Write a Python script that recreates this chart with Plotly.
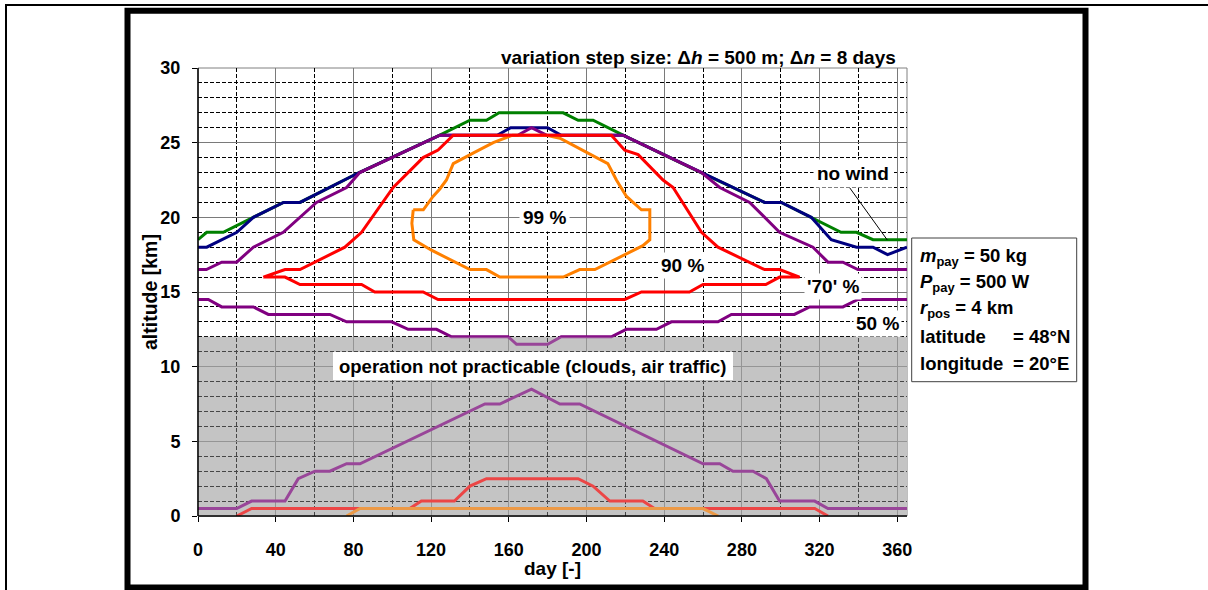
import plotly.graph_objects as go

# ---------------- data: altitude envelopes [km] versus day of year ----------------
# no wind (upper limit)
nowind_day = [0, 4.5, 13, 28.5, 44, 52.5, 83, 124.5, 140, 148.5, 155, 188, 195.7, 203.4,
              218.8, 259, 291.7, 300.3, 315.7, 331, 339, 347.5, 365]
nowind_alt = [18.5, 19, 19, 20, 21, 21, 23, 25.5, 26.5, 26.5, 27, 27, 26.5, 26.5,
              25.5, 23, 21, 21, 20, 19, 19, 18.5, 18.5]

# blue upper limit
blue_day = [0, 4.5, 20, 28.5, 44, 52.5, 83, 124.5, 154, 161, 180, 187, 218.8, 259,
            291.7, 300.3, 315.7, 326, 339, 347.5, 355, 365]
blue_alt = [18, 18, 19, 20, 21, 21, 23, 25.5, 25.5, 26, 26, 25.5, 25.5, 23,
            21, 21, 20, 18.5, 18, 18, 17.5, 18]

# 50 % band: upper and lower limit
p50_hi_day = [0, 4.3, 12.2, 19.9, 28.5, 43.9, 61, 76.5, 83.3, 124.5, 164.6, 171.7, 179.4,
              218.8, 259.2, 268.6, 284, 299.4, 316.6, 324.3, 332, 339.7, 365]
p50_hi_alt = [16.5, 16.5, 17, 17, 18, 19, 21, 22, 23, 25.5, 25.5, 26, 25.5,
              25.5, 23, 22, 21, 19, 18, 17, 17, 16.5, 16.5]
p50_lo_day = [0, 5.3, 12.2, 28.5, 36.2, 67.9, 76.5, 99.7, 108.2, 122.8, 130.5, 159.7, 164,
              180, 187, 212.8, 220.5, 236, 243.7, 267.7, 274.6, 307, 314.9, 332, 339.7, 365]
p50_lo_alt = [14.5, 14.5, 14, 14, 13.5, 13.5, 13, 13, 12.5, 12.5, 12, 12, 11.5,
              11.5, 12, 12, 12.5, 12.5, 13, 13, 13.5, 13.5, 14, 14, 14.5, 14.5]

# '70' % / 90 % closed envelope (red)
red_day = [33.6, 44.8, 52.5, 75.6, 84.2, 100.5, 115.9, 123.6, 131.4, 212.8, 219.7, 226.6,
           239.4, 244.6, 259.2, 267.7, 291.7, 299.4, 309.7, 299.4, 292.3, 260, 253, 228.3,
           219.7, 123.6, 115.9, 91, 84.2, 52.5, 44.8, 33.6]
red_alt = [16, 16.5, 16.5, 18, 19, 22, 24, 24.5, 25.5, 25.5, 24.5, 24.2,
           22.5, 22, 19, 18, 16.5, 16.5, 16, 16, 15.5, 15.5, 15, 15,
           14.5, 14.5, 15, 15, 15.5, 15.5, 16, 16]

# 99 % closed envelope (orange)
p99_day = [110.8, 116, 121, 124.5, 127.9, 131.4, 141.6, 152, 162, 179.4, 186.3, 206.8, 211,
           215.4, 220.6, 228.3, 232.6, 232.6, 229, 204.3, 196.5, 188, 155.4, 148.5, 140,
           120.2, 111.1, 110.1, 110.8]
p99_alt = [20.5, 20.5, 21.4, 21.9, 22.5, 23.6, 24.3, 25, 25.5, 25.5, 25.3, 23.9, 23.6,
           22.5, 21.4, 20.5, 20.5, 18.5, 18.1, 16.5, 16.5, 16, 16, 16.5, 16.5,
           17.8, 18.5, 19.6, 20.5]

# low-altitude limits (inside the excluded layer)
purple_gnd_day = [0, 19.9, 27.6, 44.8, 51.6, 60.2, 67.9, 76.5, 83.4, 147.7, 155.4, 171.7,
                  186.3, 196.5, 260, 268.6, 275.4, 285.7, 292.6, 299.4, 317.5, 324.3, 365]
purple_gnd_alt = [0.5, 0.5, 1, 1, 2.5, 3, 3, 3.5, 3.5, 7.5, 7.5, 8.5,
                  7.5, 7.5, 3.5, 3.5, 3, 3, 2.5, 1, 1, 0.5, 0.5]
red_gnd_day = [20, 27.6, 109, 115, 132, 140, 148.5, 195.7, 203.4, 212, 229, 235, 317.5, 324.3]
red_gnd_alt = [0, 0.5, 0.5, 1, 1, 2, 2.5, 2.5, 2, 1, 1, 0.5, 0.5, 0]
orange_gnd_day = [76.5, 83.4, 260, 267.8]
orange_gnd_alt = [0, 0.5, 0.5, 0]

# excluded layer (clouds, air traffic)
excluded_top = 12

x_ticks = [0, 40, 80, 120, 160, 200, 240, 280, 320, 360]
y_ticks = [0, 5, 10, 15, 20, 25, 30]

# ---------------- styling ----------------
GREEN, BLUE, PURPLE = "#008000", "#000080", "#800080"
RED, ORANGE = "#FF0000", "#FF8000"
FONT = "Liberation Sans, Arial, sans-serif"

W, H = 1208, 590
L, R, T, B = 198, 907, 68, 516   # plot area in pixels


def px_x(px):
    return (px - L) / (R - L)


def px_y(py):
    return (B - py) / (B - T)


def bold(size):
    return dict(family=FONT, size=size, color="black", weight="bold")


fig = go.Figure()

curves = [
    (nowind_day, nowind_alt, GREEN),
    (blue_day, blue_alt, BLUE),
    (p50_hi_day, p50_hi_alt, PURPLE),
    (p50_lo_day, p50_lo_alt, PURPLE),
    (p99_day, p99_alt, ORANGE),
    (red_day, red_alt, RED),
    (red_gnd_day, red_gnd_alt, RED),
    (orange_gnd_day, orange_gnd_alt, ORANGE),
    (purple_gnd_day, purple_gnd_alt, PURPLE),
]
for xs, ys, col in curves:
    fig.add_trace(go.Scatter(x=xs, y=ys, mode="lines", line=dict(color=col, width=3),
                             hoverinfo="skip", showlegend=False))

shapes = [
    # grey excluded layer under the grid
    dict(type="rect", layer="below", xref="x", yref="y", x0=0, x1=365, y0=0, y1=excluded_top,
         fillcolor="rgb(194,194,194)", line=dict(width=0)),
    # plot-area border
    dict(type="rect", layer="below", xref="paper", yref="paper", x0=0, x1=1, y0=0, y1=1,
         line=dict(color="#808080", width=1)),
    # haze over the curves inside the excluded layer
    dict(type="rect", layer="above", xref="x", yref="y", x0=0, x1=365, y0=0, y1=excluded_top,
         fillcolor="rgba(200,200,200,0.35)", line=dict(width=0)),
    # white label box for the excluded layer
    dict(type="rect", layer="above", xref="paper", yref="paper",
         x0=px_x(333), x1=px_x(733), y0=px_y(380), y1=px_y(352),
         fillcolor="white", line=dict(width=0)),
    # axis lines
    dict(type="line", layer="above", xref="paper", yref="paper", x0=0, x1=0, y0=0, y1=1,
         line=dict(color="black", width=1.5)),
    dict(type="line", layer="above", xref="paper", yref="paper", x0=0, x1=1, y0=0, y1=0,
         line=dict(color="black", width=1.5)),
    # leader line of the "no wind" label
    dict(type="line", xref="paper", yref="paper", x0=px_x(847.7), y0=px_y(185),
         x1=px_x(887.3), y1=px_y(240), line=dict(color="black", width=1)),
    # parameter box
    dict(type="rect", xref="paper", yref="paper", x0=px_x(911.7), x1=px_x(1076.7),
         y0=px_y(381.7), y1=px_y(238), fillcolor="white", line=dict(color="#404040", width=1)),
    # frames
    dict(type="rect", xref="paper", yref="paper", x0=px_x(127.5), x1=px_x(1085.5),
         y0=px_y(587.5), y1=px_y(10.7), line=dict(color="black", width=6)),
    dict(type="line", xref="paper", yref="paper", x0=px_x(6), x1=px_x(6), y0=px_y(600),
         y1=px_y(4), line=dict(color="black", width=2)),
    dict(type="line", xref="paper", yref="paper", x0=px_x(5), x1=px_x(1220), y0=px_y(5),
         y1=px_y(5), line=dict(color="black", width=2)),
]

annotations = []


def label(text, x, y, size=18.5, bg=None, xanchor="center", yanchor="middle", angle=0, pad=1):
    a = dict(text=text, xref="paper", yref="paper", x=px_x(x), y=px_y(y), showarrow=False,
             xanchor=xanchor, yanchor=yanchor, font=bold(size), textangle=angle, borderpad=pad)
    if bg:
        a["bgcolor"] = bg
    annotations.append(a)


label("variation step size: Δ<i>h</i> = 500 m; Δ<i>n</i> = 8 days", 898, 57, size=19,
      xanchor="right")
label("no wind", 853, 173.5, size=19, bg="white", pad=3)
label("99 %", 544.7, 217.7, size=19, bg="white", pad=3)
label("90 %", 682.5, 265, size=19, bg="white", pad=2)
label("'70' %", 833.3, 286, size=19, bg="white", pad=2)
label("50 %", 877, 323.3, size=19, bg="white", pad=2)
label("operation not practicable (clouds, air traffic)", 533, 366)
label("altitude [km]", 150, 292, size=19.5, angle=-90)
label("day [-]", 552, 568, size=19)

info_x = 918
label("<i>m</i><sub>pay</sub> = 50 kg", info_x, 257, xanchor="left")
label("<i>P</i><sub>pay</sub> = 500 W", info_x, 283, xanchor="left")
label("<i>r</i><sub>pos</sub> = 4 km", info_x, 309, xanchor="left")
label("latitude", info_x, 336, xanchor="left")
label("= 48°N", 1011, 336, xanchor="left")
label("longitude", info_x, 363, xanchor="left")
label("= 20°E", 1011, 363, xanchor="left")

grid_minor = dict(showgrid=True, gridcolor="black", griddash="4px,2px", gridwidth=1)

fig.update_layout(
    width=W, height=H,
    margin=dict(l=L, r=W - R, t=T, b=H - B, pad=0),
    paper_bgcolor="white", plot_bgcolor="white",
    showlegend=False,
    shapes=shapes,
    annotations=annotations,
    xaxis=dict(range=[0, 365], tickmode="array", tickvals=x_ticks,
               ticks="outside", ticklen=5, tickcolor="black", tickwidth=1,
               showgrid=True, gridcolor="#7a7a7a", gridwidth=1, zeroline=False,
               showline=False, tickfont=bold(18), ticklabelstandoff=12,
               minor=dict(dtick=20, tick0=0, **grid_minor)),
    yaxis=dict(range=[0, 30], tickmode="array", tickvals=y_ticks,
               ticks="outside", ticklen=5, tickcolor="black", tickwidth=1,
               showgrid=True, gridcolor="#7a7a7a", gridwidth=1, zeroline=False,
               showline=False, tickfont=bold(18), ticklabelstandoff=8,
               minor=dict(dtick=1, tick0=0, **grid_minor)),
)

fig.write_html("out.html")
